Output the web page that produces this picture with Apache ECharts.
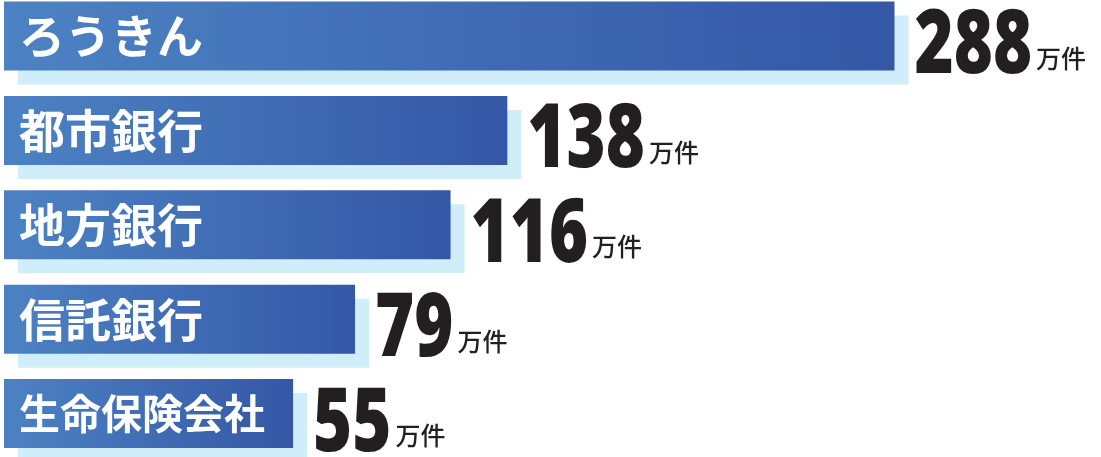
<!DOCTYPE html>
<html>
<head>
<meta charset="utf-8">
<script src="https://cdn.jsdelivr.net/npm/echarts@6/dist/echarts.min.js"></script>
<style>
html,body{margin:0;padding:0;background:#fff;}
#chart{width:1101px;height:457px;}
</style>
</head>
<body>
<div id="chart"></div>
<script>
const categories = ['ろうきん', '都市銀行', '地方銀行', '信託銀行', '生命保険会社'];
const values = [288, 138, 116, 79, 55];
const unitLabel = '万件';

const X_MIN = -57;
const X_MAX = 368;
const BAR_H = 69;
const NUM_FONT = '800 88px "Open Sans"';
const NUM_SCALE = 0.76;

const measureCtx = document.createElement('canvas').getContext('2d');
function numWidth(t) {
  measureCtx.font = NUM_FONT;
  return measureCtx.measureText(t).width * NUM_SCALE;
}

const chart = echarts.init(document.getElementById('chart'));

function renderItem(params, api) {
  const v = api.value(0);
  const i = api.value(1);
  const s = api.coord([X_MIN, i]);
  const e = api.coord([v, i]);
  const w = e[0] - s[0];
  const cy = s[1];
  const y0 = cy - BAR_H / 2;
  const name = categories[i];
  const fs = Math.min(46, 246 / name.length);
  const numText = String(v);
  const nx = e[0] + 20;
  const nw = numWidth(numText);
  return {
    type: 'group',
    children: [
      {
        type: 'rect',
        shape: { x: s[0] + 14, y: y0 + 14, width: w, height: BAR_H },
        style: { fill: '#d0eefa' }
      },
      {
        type: 'rect',
        shape: { x: s[0], y: y0, width: w, height: BAR_H },
        style: {
          fill: new echarts.graphic.LinearGradient(0, 0, 1, 0, [
            { offset: 0, color: '#4c82c3' },
            { offset: 1, color: '#3457a6' }
          ])
        }
      },
      {
        type: 'text',
        x: s[0] + 15,
        y: cy,
        style: {
          text: name,
          x: 0, y: 0,
          align: 'left',
          verticalAlign: 'middle',
          fill: '#ffffff',
          font: 'bold ' + fs + 'px "Noto Sans CJK JP"'
        }
      },
      {
        type: 'text',
        x: nx,
        y: cy + 12,
        scaleX: NUM_SCALE,
        style: {
          text: numText,
          x: 0, y: 0,
          align: 'left',
          verticalAlign: 'middle',
          fill: '#231f20',
          font: NUM_FONT
        }
      },
      {
        type: 'text',
        x: nx + nw + 4,
        y: cy + 22,
        style: {
          text: unitLabel,
          x: 0, y: 0,
          align: 'left',
          verticalAlign: 'middle',
          fill: '#231f20',
          font: '500 25px "Noto Sans CJK JP"'
        }
      }
    ]
  };
}

chart.setOption({
  animation: false,
  grid: { left: 4, right: 0, top: 36, bottom: 43.5 },
  xAxis: { type: 'value', min: X_MIN, max: X_MAX, show: false },
  yAxis: { type: 'category', data: categories, inverse: true, boundaryGap: false, show: false },
  series: [{
    type: 'custom',
    renderItem: renderItem,
    encode: { x: 0, y: 1 },
    data: values.map((v, i) => [v, i]),
    clip: false
  }]
});
</script>
</body>
</html>
